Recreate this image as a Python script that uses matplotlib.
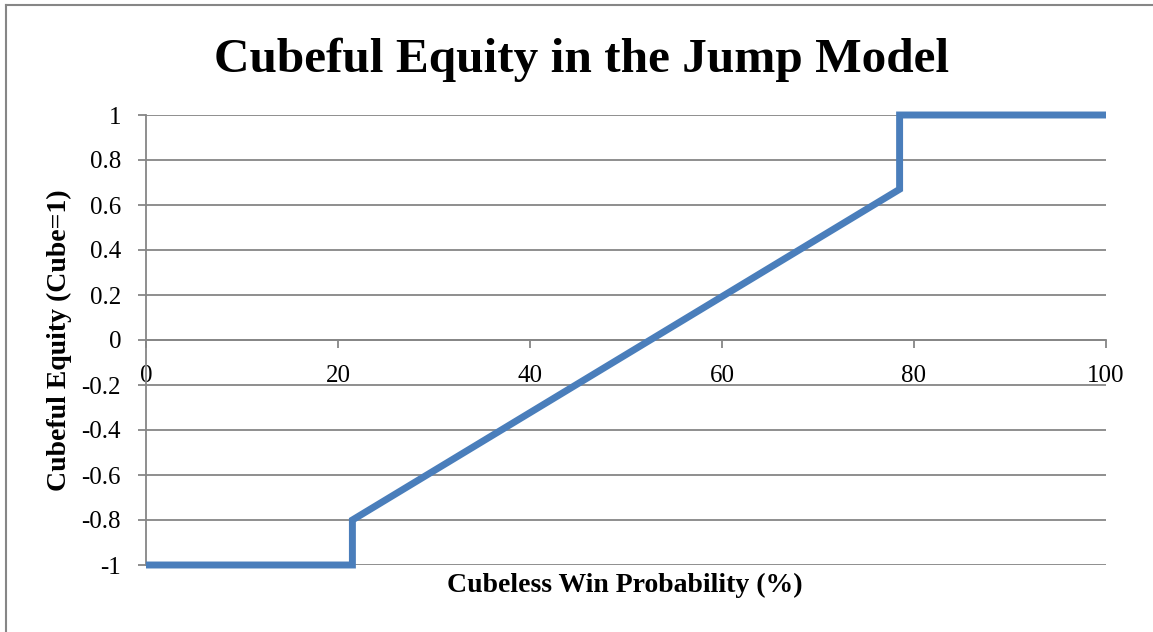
import matplotlib.pyplot as plt
from matplotlib.lines import Line2D

# Cubeful equity in the jump model
win_prob = [0, 21.5, 21.5, 78.5, 78.5, 100]
equity = [-1, -1, -0.8, 0.67, 1, 1]

x_ticks = [0, 20, 40, 60, 80, 100]
y_ticks = [-1, -0.8, -0.6, -0.4, -0.2, 0, 0.2, 0.4, 0.6, 0.8, 1]
y_labels = ["-1", "-0.8", "-0.6", "-0.4", "-0.2", "0", "0.2", "0.4", "0.6", "0.8", "1"]

plt.rcParams['font.family'] = ['Liberation Serif', 'DejaVu Serif']
grey = "#868686"

fig = plt.figure(figsize=(11.53, 6.32), dpi=100)
ax = fig.add_axes([146 / 1153, 1 - 565 / 632, 960 / 1153, 450 / 632])

ax.plot(win_prob, equity, color="#4A7EBB", lw=5, solid_joinstyle="miter",
        solid_capstyle="butt", clip_on=False, zorder=3)

# x axis crosses at y = 0 (set before ticks, it resets the axis)
for s in ["top", "right"]:
    ax.spines[s].set_visible(False)
ax.spines["bottom"].set_position(("data", 0))
ax.spines["bottom"].set_color(grey)
ax.spines["bottom"].set_linewidth(1.3)
ax.spines["left"].set_color(grey)
ax.spines["left"].set_linewidth(1.3)

ax.set_xlim(0, 100)
ax.set_ylim(-1, 1)
ax.set_yticks(y_ticks)
ax.set_yticklabels(y_labels)
ax.set_xticks(x_ticks)
ax.set_xticklabels([str(t) for t in x_ticks])

ax.grid(axis="y", color=grey, lw=1.3)
ax.set_axisbelow(True)
ax.tick_params(axis="y", direction="out", length=6, width=1.3, color=grey,
               pad=12, labelsize=18)
ax.tick_params(axis="x", direction="out", length=6, width=1.3, color=grey,
               pad=12, labelsize=18)

fig.text(582 / 1153, 1 - 72 / 632, "Cubeful Equity in the Jump Model",
         fontsize=35.5, fontweight="bold", ha="center", va="baseline")
ax.set_xlabel("Cubeless Win Probability (%)", fontsize=20, fontweight="bold")
ax.xaxis.set_label_coords((625 - 146) / 960, -0.018)
ax.set_ylabel("Cubeful Equity (Cube=1)", fontsize=20, fontweight="bold")
ax.yaxis.set_label_coords(-0.077, 0.5)

# chart frame (top and left edges visible)
fig.add_artist(Line2D([6 / 1153, 6 / 1153], [0, 1 - 5 / 632], color=grey, lw=1.5))
fig.add_artist(Line2D([6 / 1153, 1], [1 - 5 / 632, 1 - 5 / 632], color=grey, lw=1.5))

fig.savefig("out.png", dpi=100)
